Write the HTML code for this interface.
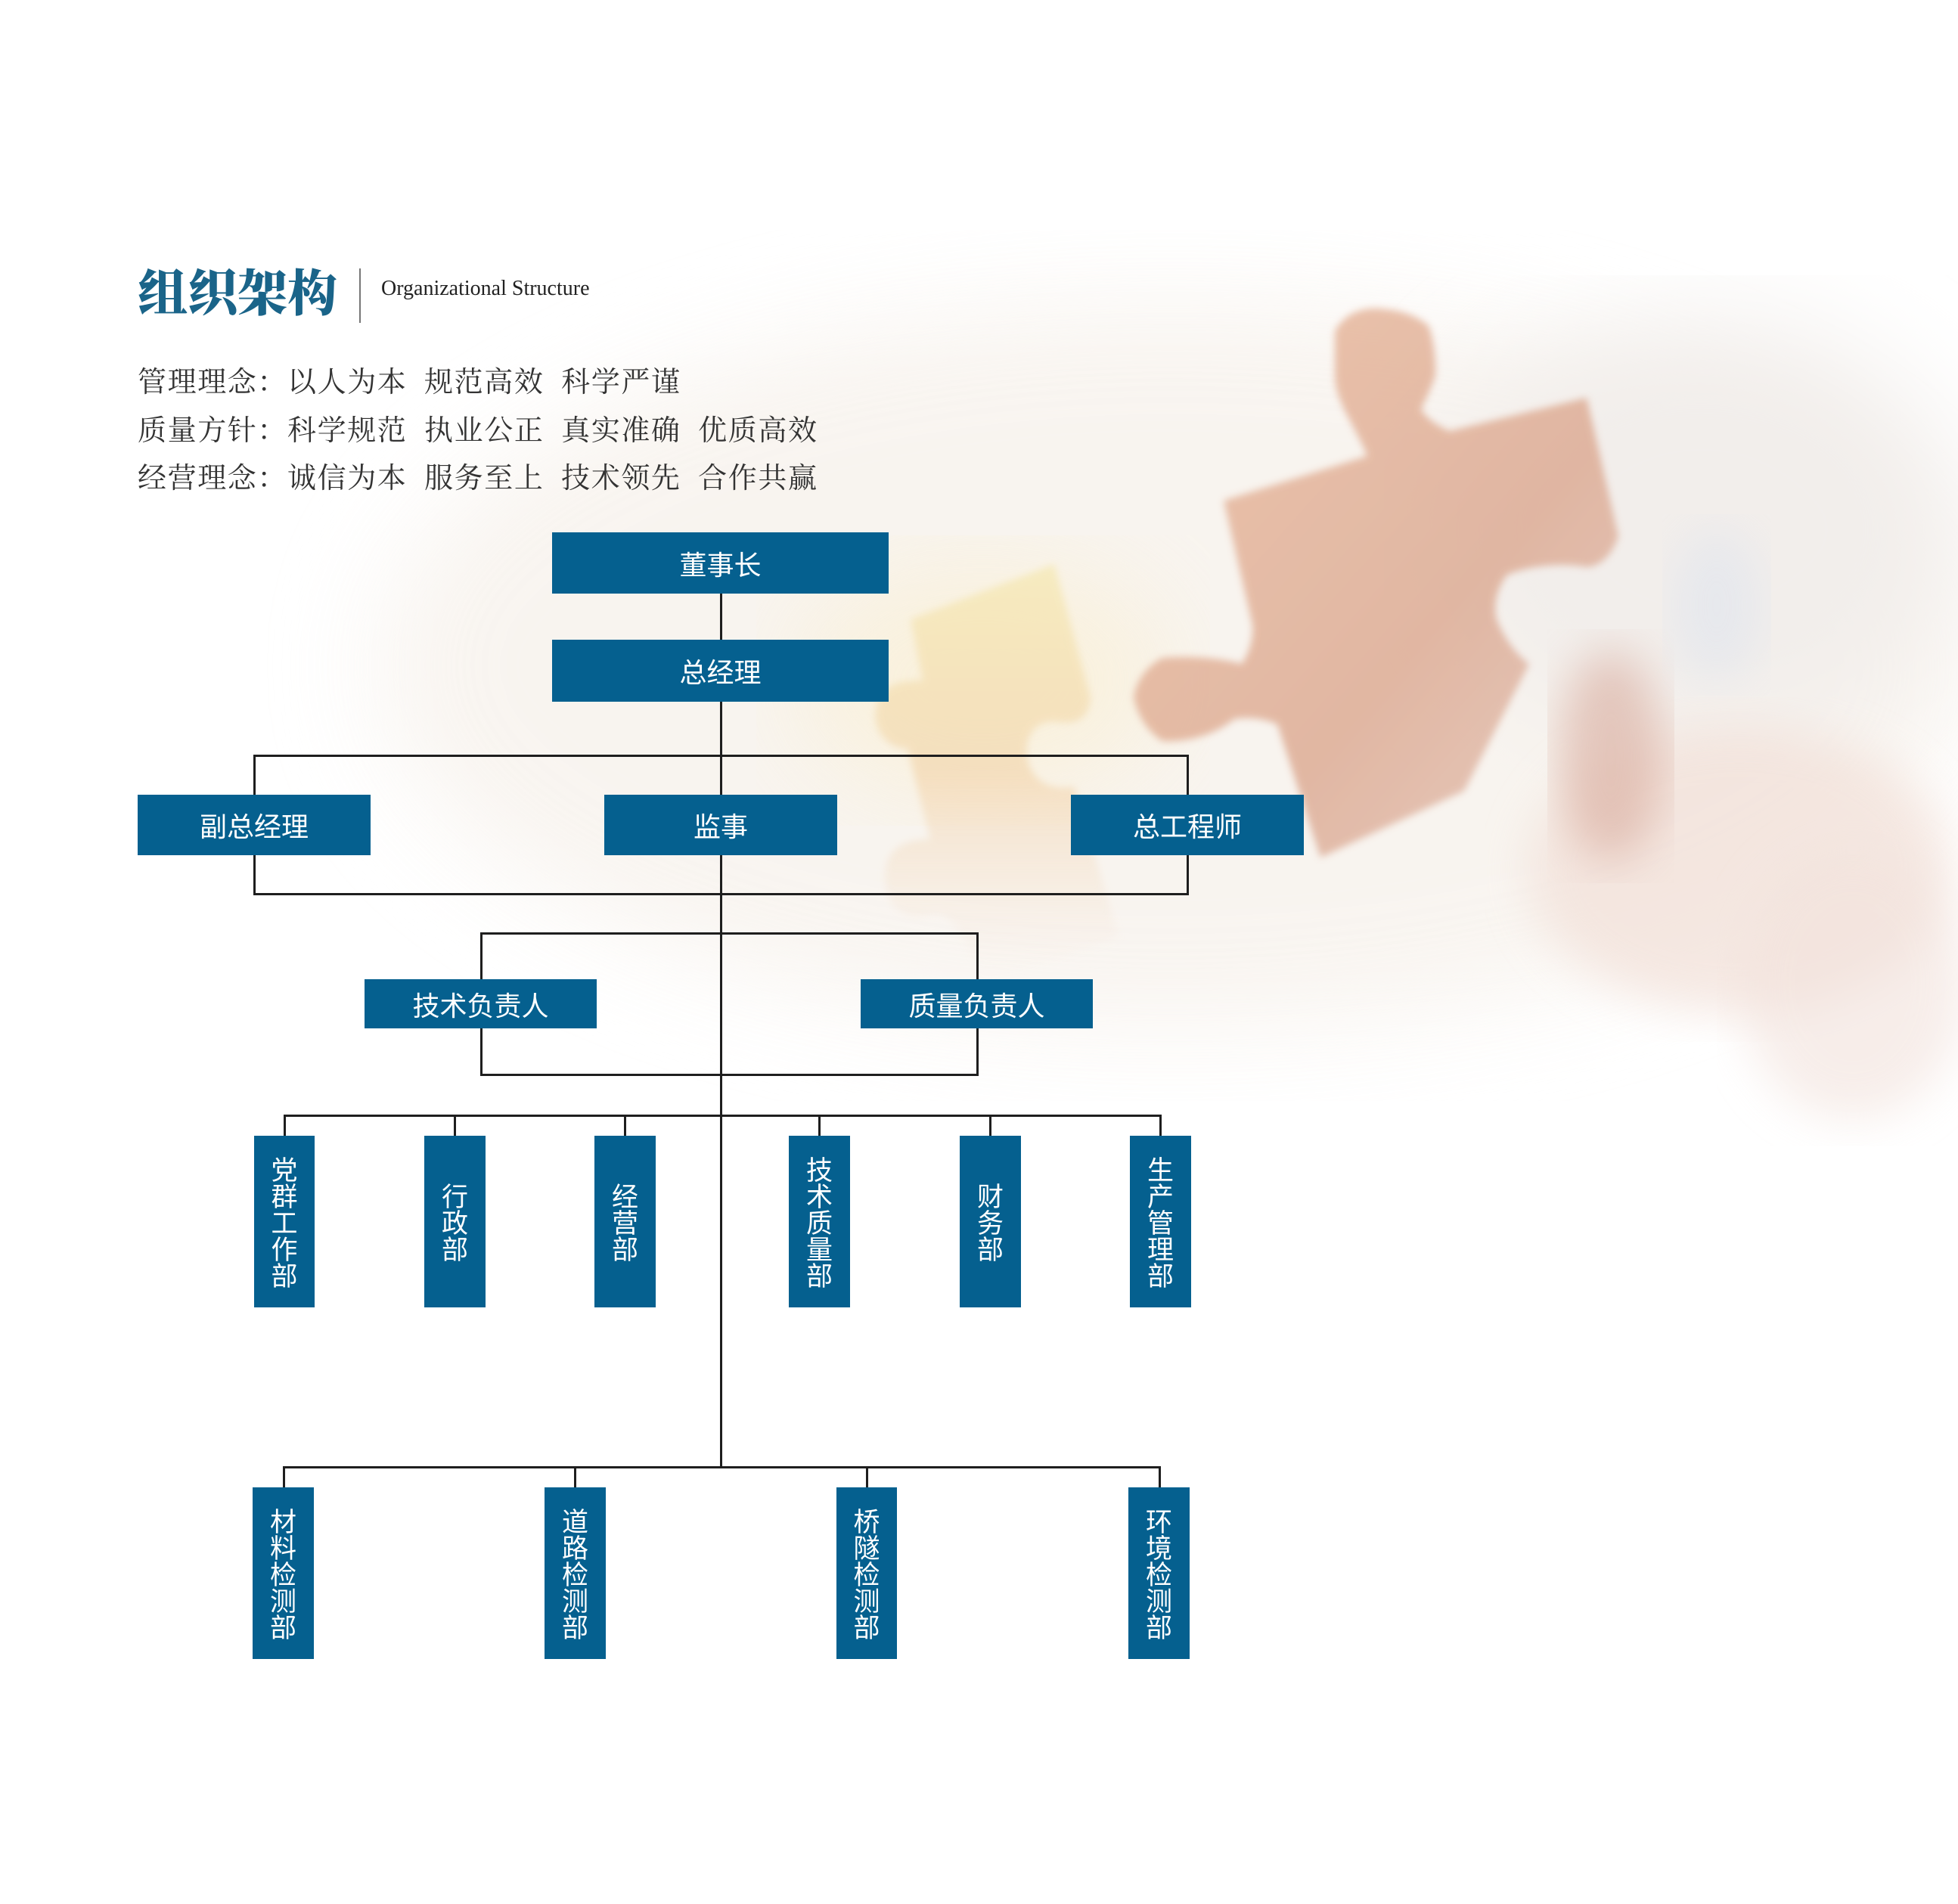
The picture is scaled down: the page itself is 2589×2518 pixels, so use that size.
<!DOCTYPE html>
<html><head><meta charset="utf-8"><style>
html,body{margin:0;padding:0}
body{width:2589px;height:2518px;position:relative;background:#fff;overflow:hidden;font-family:"Liberation Sans","Noto Sans CJK SC",sans-serif}
.bx{position:absolute;background:#05608f;color:#fff;display:flex;align-items:center;justify-content:center;font-size:36px;font-family:"Noto Sans CJK SC",sans-serif}
.v{flex-direction:column;line-height:35px;font-size:35px;justify-content:center}
.v span{display:block}
.ln{position:absolute;background:#1e1e1e}
.motto{position:absolute;left:182px;font-family:"Noto Serif CJK SC",serif;font-size:38px;color:#333;white-space:pre;letter-spacing:1.6px;word-spacing:0}
</style></head><body>
<svg width="2589" height="2518" style="position:absolute;left:0;top:0">
<defs>
<filter id="b1"><feGaussianBlur stdDeviation="70"/></filter>
<filter id="b2"><feGaussianBlur stdDeviation="5"/></filter>
<filter id="b3"><feGaussianBlur stdDeviation="30"/></filter>
<linearGradient id="pg" x1="0" y1="0" x2="1" y2="1"><stop offset="0" stop-color="#e9b89a"/><stop offset="0.6" stop-color="#dca890"/><stop offset="1" stop-color="#e2c2b6"/></linearGradient>
<linearGradient id="yg" x1="0" y1="0" x2="0" y2="1"><stop offset="0" stop-color="#f5e8b0"/><stop offset="0.5" stop-color="#f3d7b0"/><stop offset="1" stop-color="#f5e6dc" stop-opacity="0"/></linearGradient>
</defs>
<ellipse cx="1550" cy="880" rx="1050" ry="480" fill="#f7f2ec" opacity="0.8" filter="url(#b1)"/>
<ellipse cx="1300" cy="900" rx="250" ry="160" fill="#faf0d6" opacity="0.7" filter="url(#b1)"/>
<ellipse cx="2250" cy="700" rx="350" ry="280" fill="#f2eeeb" filter="url(#b1)"/>
<path d="M1204,819 L1394,746 L1442,922 C1440,950 1425,958 1400,955 C1370,950 1350,975 1360,1010 C1370,1040 1400,1045 1420,1040 L1480,1240 L1300,1300 C1280,1250 1260,1200 1230,1210 C1200,1220 1170,1200 1170,1160 C1170,1120 1200,1110 1230,1110 L1200,990 C1170,990 1150,960 1160,930 C1170,900 1200,900 1220,900 Z" fill="url(#yg)" opacity="0.7" filter="url(#b2)"/>
<path d="M1618,662 L1808,603 C1790,560 1765,530 1765,497 L1765,438 C1780,410 1810,405 1832,409 C1870,412 1889,431 1889,431 C1900,460 1898,497 1898,497 C1890,520 1879,541 1879,541 C1890,560 1917,570 1917,570 L2098,526 L2140,709 C2130,740 2110,750 2098,750 C2040,740 1993,760 1993,760 C1970,790 1979,819 1979,819 C1995,860 2022,878 2022,878 L1936,1046 L1746,1134 L1689,958 C1660,945 1632,951 1632,951 C1590,985 1537,980 1537,980 C1505,960 1499,922 1499,922 C1505,885 1537,870 1537,870 C1600,865 1642,878 1642,878 C1660,850 1656,826 1656,826 Z" fill="url(#pg)" opacity="0.8" filter="url(#b2)"/>
<ellipse cx="2300" cy="1150" rx="280" ry="190" fill="#f2e0d8" opacity="0.7" filter="url(#b3)"/>
<ellipse cx="2130" cy="1000" rx="70" ry="140" fill="#d8aa9c" opacity="0.6" filter="url(#b3)"/>
<ellipse cx="2450" cy="1300" rx="150" ry="180" fill="#f2e2dc" opacity="0.6" filter="url(#b3)"/>
<ellipse cx="2270" cy="800" rx="60" ry="100" fill="#e2e6ee" opacity="0.7" filter="url(#b3)"/>
</svg>

<div style="position:absolute;left:182px;top:338px;font-family:'Noto Serif CJK SC',serif;font-weight:900;font-size:66px;color:#1a6489;line-height:90px">组织架构</div>
<div style="position:absolute;left:475px;top:355px;width:2px;height:72px;background:#777"></div>
<div style="position:absolute;left:504px;top:364px;font-family:'Liberation Serif',serif;font-size:28px;color:#222;line-height:36px">Organizational Structure</div>

<div class="motto" style="top:474px">管理理念：以人为本  规范高效  科学严谨</div>
<div class="motto" style="top:538px">质量方针：科学规范  执业公正  真实准确  优质高效</div>
<div class="motto" style="top:601px">经营理念：诚信为本  服务至上  技术领先  合作共赢</div>

<div class="ln" style="left:952px;top:785px;width:3px;height:690px"></div>
<div class="ln" style="left:952px;top:1475px;width:3px;height:466px"></div>
<div class="ln" style="left:335px;top:998px;width:1237px;height:3px"></div>
<div class="ln" style="left:335px;top:998px;width:3px;height:186px"></div>
<div class="ln" style="left:1569px;top:998px;width:3px;height:186px"></div>
<div class="ln" style="left:335px;top:1181px;width:1237px;height:3px"></div>
<div class="ln" style="left:635px;top:1233px;width:659px;height:3px"></div>
<div class="ln" style="left:635px;top:1233px;width:3px;height:190px"></div>
<div class="ln" style="left:1291px;top:1233px;width:3px;height:190px"></div>
<div class="ln" style="left:635px;top:1420px;width:659px;height:3px"></div>
<div class="ln" style="left:375px;top:1474px;width:1161px;height:3px"></div>
<div class="ln" style="left:375px;top:1474px;width:3px;height:30px"></div>
<div class="ln" style="left:600px;top:1474px;width:3px;height:30px"></div>
<div class="ln" style="left:825px;top:1474px;width:3px;height:30px"></div>
<div class="ln" style="left:1082px;top:1474px;width:3px;height:30px"></div>
<div class="ln" style="left:1308px;top:1474px;width:3px;height:30px"></div>
<div class="ln" style="left:1533px;top:1474px;width:3px;height:30px"></div>
<div class="ln" style="left:374px;top:1939px;width:1161px;height:3px"></div>
<div class="ln" style="left:374px;top:1939px;width:3px;height:30px"></div>
<div class="ln" style="left:759px;top:1939px;width:3px;height:30px"></div>
<div class="ln" style="left:1145px;top:1939px;width:3px;height:30px"></div>
<div class="ln" style="left:1532px;top:1939px;width:3px;height:30px"></div>

<div class="bx" style="left:730px;top:704px;width:445px;height:81px">董事长</div>
<div class="bx" style="left:730px;top:846px;width:445px;height:82px">总经理</div>
<div class="bx" style="left:182px;top:1051px;width:308px;height:80px">副总经理</div>
<div class="bx" style="left:799px;top:1051px;width:308px;height:80px">监事</div>
<div class="bx" style="left:1416px;top:1051px;width:308px;height:80px">总工程师</div>
<div class="bx" style="left:482px;top:1295px;width:307px;height:65px">技术负责人</div>
<div class="bx" style="left:1138px;top:1295px;width:307px;height:65px">质量负责人</div>

<div class="bx v" style="left:336px;top:1502px;width:80px;height:227px"><span>党</span><span>群</span><span>工</span><span>作</span><span>部</span></div>
<div class="bx v" style="left:561px;top:1502px;width:81px;height:227px"><span>行</span><span>政</span><span>部</span></div>
<div class="bx v" style="left:786px;top:1502px;width:81px;height:227px"><span>经</span><span>营</span><span>部</span></div>
<div class="bx v" style="left:1043px;top:1502px;width:81px;height:227px"><span>技</span><span>术</span><span>质</span><span>量</span><span>部</span></div>
<div class="bx v" style="left:1269px;top:1502px;width:81px;height:227px"><span>财</span><span>务</span><span>部</span></div>
<div class="bx v" style="left:1494px;top:1502px;width:81px;height:227px"><span>生</span><span>产</span><span>管</span><span>理</span><span>部</span></div>

<div class="bx v" style="left:334px;top:1967px;width:81px;height:227px"><span>材</span><span>料</span><span>检</span><span>测</span><span>部</span></div>
<div class="bx v" style="left:720px;top:1967px;width:81px;height:227px"><span>道</span><span>路</span><span>检</span><span>测</span><span>部</span></div>
<div class="bx v" style="left:1106px;top:1967px;width:80px;height:227px"><span>桥</span><span>隧</span><span>检</span><span>测</span><span>部</span></div>
<div class="bx v" style="left:1492px;top:1967px;width:81px;height:227px"><span>环</span><span>境</span><span>检</span><span>测</span><span>部</span></div>
</body></html>
